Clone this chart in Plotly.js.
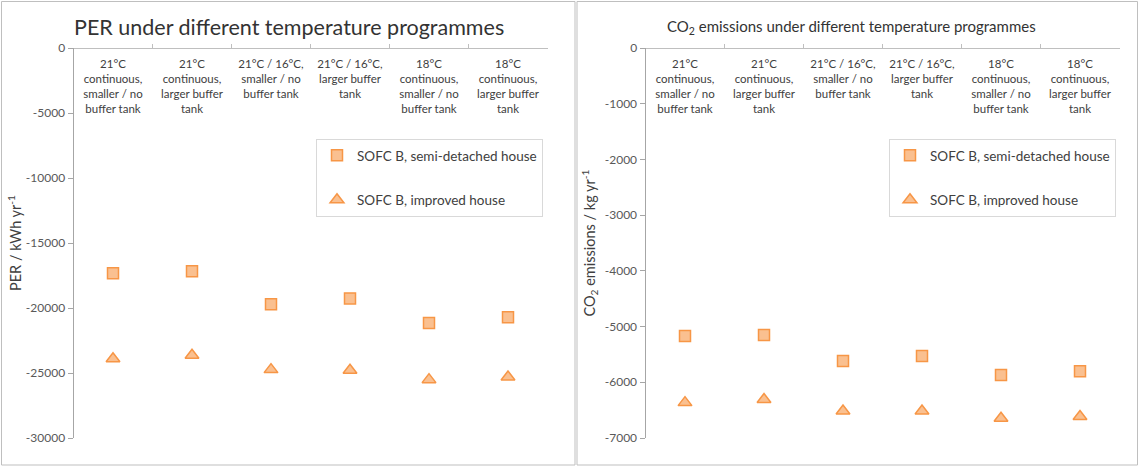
<!DOCTYPE html>
<html><head><meta charset="utf-8">
<script src="https://cdn.plot.ly/plotly-3.0.1.min.js"></script>
<style>body{margin:0;padding:0;background:#fff}#chart{width:1139px;height:466px}</style>
</head><body><div id="chart"></div>
<script>
const categories = [
  "21°C<br>continuous,<br>smaller / no<br>buffer tank",
  "21°C<br>continuous,<br>larger buffer<br>tank",
  "21°C / 16°C,<br>smaller / no<br>buffer tank",
  "21°C / 16°C,<br>larger buffer<br>tank",
  "18°C<br>continuous,<br>smaller / no<br>buffer tank",
  "18°C<br>continuous,<br>larger buffer<br>tank"
];
const seriesNames = ["SOFC B, semi-detached house", "SOFC B, improved house"];
const perSemi = [-17330, -17180, -19720, -19260, -21150, -20720];
const perImproved = [-23900, -23640, -24740, -24790, -25510, -25310];
const co2Semi = [-5170, -5150, -5620, -5530, -5870, -5800];
const co2Improved = [-6365, -6310, -6515, -6515, -6645, -6615];
const perTicks = [0, -5000, -10000, -15000, -20000, -25000, -30000];
const co2Ticks = [0, -1000, -2000, -3000, -4000, -5000, -6000, -7000];

const W = 1139, H = 466;
const px = v => v / W, py = v => 1 - v / H;
const FONT = "Lato, 'Open Sans', sans-serif";
const fill = "rgb(250,192,144)", edge = "rgb(247,150,70)";

function mk(x, y, name, sym, size, xa, ya, leg) {
  return {type: "scatter", mode: "markers", x: x, y: y, name: name, xaxis: xa, yaxis: ya,
    legend: leg, legendgroup: leg + name, showlegend: true,
    marker: {symbol: sym, size: size, color: fill, line: {color: edge, width: 1.5}},
    hoverinfo: "x+y"};
}
const traces = [
  mk(categories, perSemi, seriesNames[0], "square", 11, "x", "y", "legend"),
  mk(categories, perImproved, seriesNames[1], "triangle-up", 12, "x", "y", "legend"),
  mk(categories, co2Semi, seriesNames[0], "square", 11, "x2", "y2", "legend2"),
  mk(categories, co2Improved, seriesNames[1], "triangle-up", 12, "x2", "y2", "legend2")
];

const yTop = py(48), yBot = py(438);
function xaxis(dom) {
  return {domain: dom, type: "category", range: [-0.5, categories.length - 0.5], autorange: false,
    anchor: "free", position: yTop, side: "bottom",
    showline: true, linecolor: "#bfbfbf", linewidth: 1, ticks: "inside", ticklen: 4, tickcolor: "#bfbfbf",
    tickson: "boundaries", showgrid: false, zeroline: false, fixedrange: true,
    tickfont: {family: FONT, size: 11.5, color: "#404040"}, ticklabelstandoff: 5, automargin: false};
}
function yaxis(range, ticks, title, xa, standoff) {
  return {domain: [yBot, yTop], range: range, anchor: xa, tickvals: ticks, ticktext: ticks.map(String),
    showline: true, linecolor: "#a6a6a6", linewidth: 1, ticks: "outside", ticklen: 5, tickcolor: "#a6a6a6",
    showgrid: false, zeroline: false, fixedrange: true,
    tickfont: {family: FONT, size: 12, color: "#595959"},
    title: {text: title, font: {family: FONT, size: 14.5, color: "#404040"}, standoff: standoff}, automargin: false};
}
const legendBase = {bgcolor: "#fff", bordercolor: "#d9d9d9", borderwidth: 1, xanchor: "left", yanchor: "top",
  font: {family: FONT, size: 13.5, color: "#404040"}, traceorder: "grouped", tracegroupgap: 24, itemclick: false};

const layout = {
  width: W, height: H, margin: {l: 0, r: 0, t: 0, b: 0}, paper_bgcolor: "#fff", plot_bgcolor: "#fff",
  showlegend: true,
  xaxis: xaxis([px(73.5), px(547.5)]),
  yaxis: yaxis([-30000, 0], perTicks, "PER / kWh yr<sup>-1</sup>", "x", 0),
  xaxis2: xaxis([px(645.5), px(1119.5)]),
  yaxis2: yaxis([-7000, 0], co2Ticks, "CO<sub>2</sub> emissions / kg yr<sup>-1</sup>", "x2", 5),
  legend: Object.assign({}, legendBase, {x: px(316), y: py(139)}),
  legend2: Object.assign({}, legendBase, {x: px(889), y: py(139)}),
  annotations: [
    {text: "PER under different temperature programmes", xref: "paper", yref: "paper", x: px(289), y: py(27),
      xanchor: "center", yanchor: "middle", showarrow: false, font: {family: FONT, size: 21.5, color: "#333"}},
    {text: "CO<sub>2</sub> emissions under different temperature programmes", xref: "paper", yref: "paper",
      x: px(851), y: py(27), xanchor: "center", yanchor: "middle", showarrow: false,
      font: {family: FONT, size: 15, color: "#333"}}
  ],
  shapes: [
    {type: "rect", xref: "paper", yref: "paper", x0: px(1.5), x1: px(575), y0: py(465), y1: py(1.5),
      line: {color: "#bfbfbf", width: 1}, layer: "below"},
    {type: "rect", xref: "paper", yref: "paper", x0: px(577), x1: px(1137.5), y0: py(465), y1: py(1.5),
      line: {color: "#bfbfbf", width: 1}, layer: "below"}
  ]
};
Plotly.newPlot("chart", traces, layout, {displayModeBar: false, staticPlot: true});
</script></body></html>
